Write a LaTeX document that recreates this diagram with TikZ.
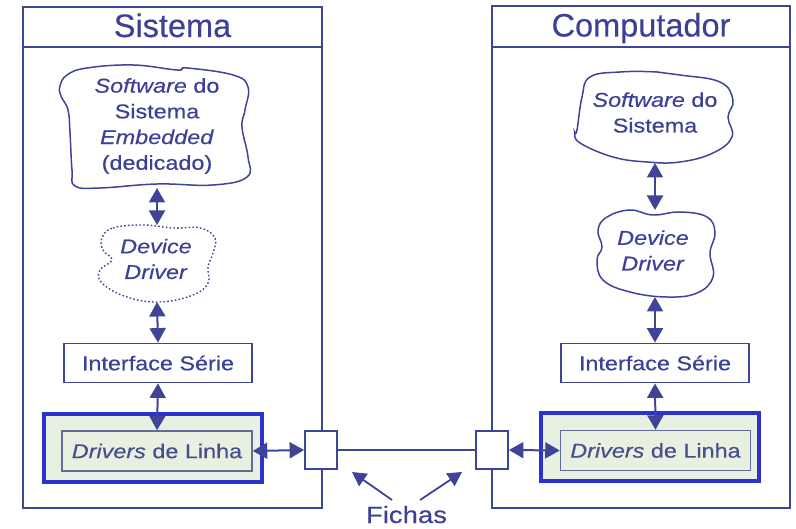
\documentclass[tikz,border=0pt]{standalone}
\usepackage{fontspec}
\setmainfont{Liberation Sans}[FakeBold=0.3]
\newfontfamily\bodyfont{Liberation Sans}[FakeStretch=1.17,FakeBold=0.4]
\usetikzlibrary{arrows.meta}

\definecolor{ink}{RGB}{62,68,152}
\definecolor{txt}{RGB}{60,64,150}
\definecolor{vivid}{RGB}{46,50,205}
\definecolor{pale}{RGB}{232,240,226}
\definecolor{greyline}{RGB}{98,108,152}
\definecolor{greytxt}{RGB}{72,80,140}

\tikzset{
  panel/.style={draw=ink, line width=2.4pt},
  title/.style={text=txt, font=\fontsize{32.5}{36}\selectfont, inner sep=0pt, anchor=base},
  cloudline/.style={draw=ink, line width=1.5pt},
  dottedcloud/.style={draw=ink, line width=1.4pt, dash pattern=on 1.6pt off 2.2pt},
  cloudtext/.style={text=txt, font=\bodyfont\fontsize{20}{25.7}\selectfont, align=center, inner sep=0pt},
  ifbox/.style={draw=ink, line width=1.8pt, fill=white, minimum width=188pt, minimum height=39pt,
    text=txt, font=\bodyfont\fontsize{20}{24}\selectfont, inner sep=0pt},
  drvouter/.style={draw=vivid, line width=3.4pt, fill=pale, minimum width=218pt, minimum height=68pt, inner sep=0pt},
  drvinner/.style={draw=greyline, line width=1.5pt, fill=pale, minimum width=190pt, minimum height=40pt,
    text=greytxt, font=\bodyfont\fontsize{20}{24}\selectfont, inner sep=0pt},
  plug/.style={draw=ink, line width=1.8pt, fill=white, minimum width=32pt, minimum height=38pt, inner sep=0pt},
  link/.style={draw=ink, line width=2pt, {Triangle[length=14.5pt,width=16pt]}-{Triangle[length=14.5pt,width=16pt]}},
  pointer/.style={draw=ink, line width=1.8pt, -{Triangle[length=14pt,width=15pt]}},
  wire/.style={draw=ink, line width=1.6pt},
}

\begin{document}
\begin{tikzpicture}[x=1pt,y=-1pt]
\useasboundingbox (0,0) rectangle (796,529);

% ---- the two enclosures with their title bars
\draw[panel] (23,7) rectangle (322,508);
\draw[panel] (23,47) -- (322,47);
\draw[panel] (492,6) rectangle (790,508);
\draw[panel] (492,47) -- (790,47);
\node[title] (tsis) at (172.5,37) {Sistema};
\node[title] (tcomp) at (641,36.5) {Computador};

% ---- left column: embedded system
\draw[cloudline] plot[smooth cycle, tension=0.7] coordinates {
  (60,86) (67,75) (87,68) (133,65) (177,70) (187,68) (233,75) (248,87)
  (245,110) (242,127) (248,157) (247,177) (213,185) (157,184) (100,188)
  (75,186) (72,170) (70,133) (68,110) (61,96)};
\node[cloudtext] (swl) at (157,126) {\textit{Software} do\\Sistema\\\textit{Embedded}\\(dedicado)};
\coordinate (swlb) at (157,188);

\draw[dottedcloud] plot[smooth cycle, tension=0.7] coordinates {
  (102,238) (113,228) (143,225) (173,228) (200,228) (215,238) (213,253)
  (208,267) (208,283) (193,295) (160,302) (127,297) (102,283) (100,270)
  (112,260) (103,250)};
\node[cloudtext] (ddl) at (156,259) {\textit{Device}\\\textit{Driver}};
\coordinate (ddlt) at (157,225);
\coordinate (ddlb) at (157,302);

\node[ifbox] (isl) at (158,363) {Interface Série};
\node[drvouter] (dol) at (153,448) {};
\node[drvinner] (dil) at (157,451) {\textit{Drivers} de Linha};

% ---- right column: computer
\draw[cloudline] plot[smooth cycle, tension=0.7] coordinates {
  (577,130) (582,97) (590,77) (620,72) (657,72) (680,75) (720,82) (733,100)
  (728,117) (732,137) (713,153) (680,162) (647,162) (613,157) (580,143)
  (575,133)};
\node[cloudtext] (swr) at (655,112.5) {\textit{Software} do\\Sistema};
\coordinate (swrb) at (655,163);

\draw[cloudline] plot[smooth cycle, tension=0.7] coordinates {
  (598,230) (607,217) (630,210) (653,215) (680,212) (707,217) (715,233)
  (710,253) (713,277) (697,293) (667,297) (630,292) (603,280) (597,260)
  (602,247)};
\node[cloudtext] (ddr) at (653,250.5) {\textit{Device}\\\textit{Driver}};
\coordinate (ddrt) at (655,210);
\coordinate (ddrb) at (655,297);

\node[ifbox] (isr) at (655,363) {Interface Série};
\node[drvouter] (dor) at (650,447) {};
\node[drvinner] (dir) at (655.5,450.5) {\textit{Drivers} de Linha};

% ---- plugs and the cable between them
\node[plug] (pl) at (321,450) {};
\node[plug] (pr) at (492,450) {};
\draw[wire] (pl.east) -- (pr.west);

% ---- vertical links
\draw[link] (swlb) -- (ddlt);
\draw[link] (ddlb) -- (isl.north);
\draw[link] (isl.south) -- (dil.north);
\draw[link] (swrb) -- (ddrt);
\draw[link] (ddrb) -- (isr.north);
\draw[link] (isr.south) -- (dir.north);

% ---- horizontal links to the plugs
\draw[link] (dil.east) -- (pl.west);
\draw[link] (pr.east) -- (dir.west);

% ---- caption with its pointers
\node[text=txt, font=\bodyfont\fontsize{23.5}{26}\selectfont, anchor=base, inner sep=0pt] (fich) at (406.5,523) {Fichas};
\coordinate (fa) at (392,500);
\coordinate (fb) at (352,472);
\coordinate (fc) at (420,500);
\coordinate (fd) at (462,472);
\draw[pointer] (fa) -- (fb);
\draw[pointer] (fc) -- (fd);
\end{tikzpicture}
\end{document}
